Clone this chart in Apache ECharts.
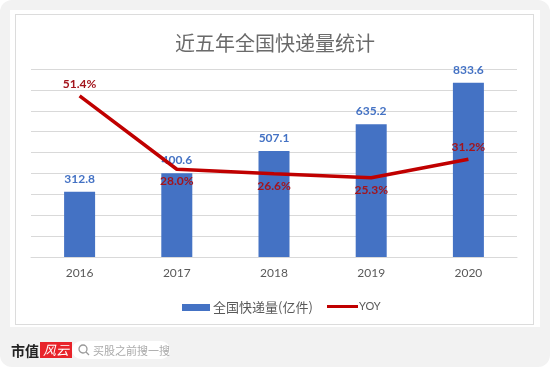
<!DOCTYPE html>
<html>
<head>
<meta charset="utf-8">
<script src="https://cdn.jsdelivr.net/npm/echarts@6/dist/echarts.min.js"></script>
<style>
html,body{margin:0;padding:0;background:#fff;}
#wrap{position:absolute;left:0;top:0;width:550px;height:367px;background:#f2f2f2;border-radius:12px;overflow:hidden;}
#card{position:absolute;left:10px;top:10px;width:530px;height:317px;background:#fff;}
#frame{position:absolute;left:15px;top:14px;width:517px;height:309px;border:1px solid #dcdcdc;}
#main{position:absolute;left:0;top:0;width:550px;height:367px;}
#logo{position:absolute;left:11px;top:341px;height:18px;font-family:"Noto Sans CJK SC";font-size:14px;font-weight:bold;color:#222;line-height:18px;}
#logo span{display:inline-block;background:#e8232a;color:#fff;font-style:italic;font-weight:normal;font-size:13px;padding:0 3px;margin-left:1px;height:16px;line-height:16px;vertical-align:top;margin-top:1px;}
#search{position:absolute;left:72px;top:341px;width:98px;height:18px;background:#fff;border-radius:9px;font-family:"Noto Sans CJK SC";font-size:11px;color:#aaa;line-height:18px;}
#search svg{position:absolute;left:6px;top:3px;}
#search b{position:absolute;left:21px;top:0;font-weight:normal;}
</style>
</head>
<body>
<div id="wrap">
  <div id="card"></div>
  <div id="frame"></div>
  <div id="main"></div>
  <div id="logo">市值<span>风云</span></div>
  <div id="search">
    <svg width="12" height="12" viewBox="0 0 12 12"><circle cx="5" cy="5" r="4" fill="none" stroke="#999" stroke-width="1.3"/><line x1="8" y1="8" x2="11" y2="11" stroke="#999" stroke-width="1.3"/></svg>
    <b>买股之前搜一搜</b>
  </div>
</div>
<script>
var years = ['2016', '2017', '2018', '2019', '2020'];
var volume = [312.8, 400.6, 507.1, 635.2, 833.6]; //全国快递量(亿件)
var yoy = [51.4, 28.0, 26.6, 25.3, 31.2]; //同比 %
var yoyLabelPos = ['top', 'bottom', 'bottom', 'bottom', 'top'];

var chart = echarts.init(document.getElementById('main'));

var yoyData = [];
yoy.forEach(function (v, i) {
	yoyData.push({
		value: v,
		label: { position: yoyLabelPos[i] }
	});
});

var option = {
	animation: false,
	title: {
		text: '近五年全国快递量统计',
		left: 'center',
		top: 28,
		textStyle: {
			fontFamily: 'Noto Sans CJK SC',
			fontSize: 20,
			fontWeight: 'normal',
			color: '#6a6a6a'
		}
	},
	legend: [{
		left: 177,
		top: 296,
		itemWidth: 28,
		itemHeight: 7,
		icon: 'rect',
		data: ['全国快递量(亿件)'],
		textStyle: {
			fontFamily: 'Noto Sans CJK SC',
			fontSize: 13,
			color: '#595959',
			padding: [0, 0, 0, -2]
		}
	}, {
		left: 322,
		top: 296,
		itemWidth: 31,
		itemHeight: 3,
		icon: 'rect',
		data: ['YOY'],
		textStyle: {
			fontFamily: 'Lato',
			fontSize: 11,
			color: '#595959',
			padding: [0, 0, 0, -4]
		}
	}],
	grid: {
		left: 31,
		right: 33,
		top: 69,
		bottom: 110
	},
	xAxis: {
		type: 'category',
		data: years,
		axisTick: { show: false },
		axisLine: { lineStyle: { color: '#d9d9d9' } },
		axisLabel: {
			margin: 10,
			color: '#595959',
			fontFamily: 'Lato',
			fontSize: 12
		}
	},
	yAxis: [{
		type: 'value',
		min: 0,
		max: 900,
		interval: 100,
		axisLabel: { show: false },
		axisLine: { show: false },
		axisTick: { show: false },
		splitLine: { lineStyle: { color: '#d9d9d9' } }
	}, {
		type: 'value',
		min: 0,
		max: 60,
		interval: 10,
		axisLabel: { show: false },
		axisLine: { show: false },
		axisTick: { show: false },
		splitLine: { show: false }
	}],
	series: [{
		name: '全国快递量(亿件)',
		type: 'bar',
		data: volume,
		barWidth: 31,
		itemStyle: { color: '#4472c4' },
		label: {
			show: true,
			position: 'top',
			distance: 7,
			color: '#4472c4',
			fontFamily: 'Lato',
			fontWeight: 'bold',
			fontSize: 12
		}
	}, {
		name: 'YOY',
		type: 'line',
		yAxisIndex: 1,
		data: yoyData,
		symbol: 'circle',
		symbolSize: 0.1,
		showSymbol: true,
		itemStyle: { color: '#c00000' },
		lineStyle: { color: '#c00000', width: 3.5 },
		label: {
			show: true,
			distance: 6,
			color: '#a3141c',
			fontFamily: 'Lato',
			fontWeight: 'bold',
			fontSize: 12,
			formatter: function (p) {
				return p.value.toFixed(1) + '%';
			}
		}
	}]
};
chart.setOption(option);
</script>
</body>
</html>
